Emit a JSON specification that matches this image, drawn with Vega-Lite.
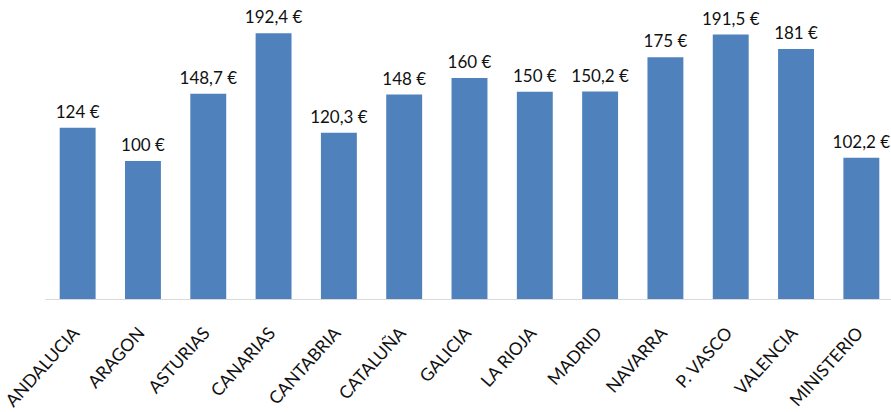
{
  "$schema": "https://vega.github.io/schema/vega-lite/v6.json",
  "autosize": "none",
  "width": 849,
  "height": 299,
  "padding": {"left": 45, "top": 0, "right": 0, "bottom": 113},
  "background": "white",
  "config": {
    "view": {"stroke": null},
    "font": "Lato",
    "locale": {"number": {"decimal": ",", "thousands": ".", "grouping": [3], "currency": ["", " €"]}}
  },
  "data": {"values": [
    {"region": "ANDALUCIA", "price": 124},
    {"region": "ARAGON", "price": 100},
    {"region": "ASTURIAS", "price": 148.7},
    {"region": "CANARIAS", "price": 192.4},
    {"region": "CANTABRIA", "price": 120.3},
    {"region": "CATALUÑA", "price": 148},
    {"region": "GALICIA", "price": 160},
    {"region": "LA RIOJA", "price": 150},
    {"region": "MADRID", "price": 150.2},
    {"region": "NAVARRA", "price": 175},
    {"region": "P. VASCO", "price": 191.5},
    {"region": "VALENCIA", "price": 181},
    {"region": "MINISTERIO", "price": 102.2}
  ]},
  "encoding": {
    "x": {"field": "region", "type": "nominal", "sort": null,
      "scale": {"paddingInner": 0.45, "paddingOuter": 0.225},
      "axis": {"title": null, "labelAngle": -48, "labelAlign": "right", "labelBaseline": "middle",
        "labelFontSize": 17.5, "labelColor": "#111", "labelPadding": 31, "labelFont": "Lato",
        "labelOffset": -1, "ticks": false, "domainColor": "#d9d9d9", "domainWidth": 1}},
    "y": {"field": "price", "type": "quantitative", "scale": {"domain": [0, 216.5], "nice": false}, "axis": null}
  },
  "layer": [
    {"mark": {"type": "bar", "color": "#4f81bd"}},
    {"mark": {"type": "text", "baseline": "bottom", "dy": -6, "fontSize": 17, "color": "#111", "font": "Lato"},
     "encoding": {"text": {"field": "price", "type": "quantitative", "format": "$.4~r"}}}
  ]
}
